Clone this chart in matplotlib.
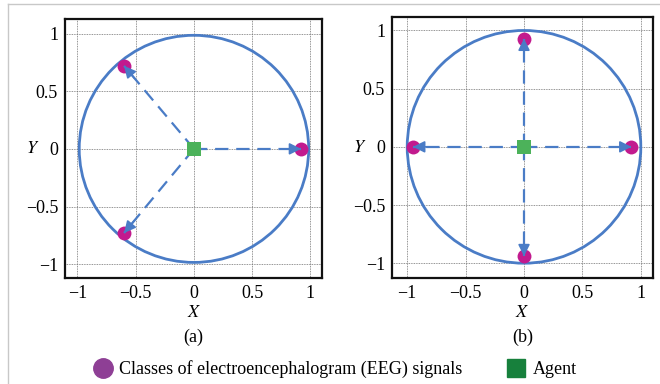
import matplotlib
matplotlib.use("Agg")
import matplotlib.pyplot as plt
from matplotlib.patches import Circle
from matplotlib.lines import Line2D

plt.rcParams['font.family'] = ['Liberation Serif', 'DejaVu Serif']
plt.rcParams['mathtext.fontset'] = 'stix'

# class positions, agent sits at the origin
panel_labels = ['(a)', '(b)']
classes_a_x = [0.92, -0.60, -0.60]
classes_a_y = [0.0, 0.72, -0.73]
classes_b_x = [0.0, -0.95, 0.92, 0.0]
classes_b_y = [0.93, 0.0, 0.0, -0.94]
agent_x = [0.0, 0.0]
agent_y = [0.0, 0.0]
circle_radius = [0.985, 1.0]
ticks = [-1, -0.5, 0, 0.5, 1]
tick_labels = ['\u22121', '\u22120.5', '0', '0.5', '1']
legend_labels = ['Classes of electroencephalogram (EEG) signals', 'Agent']

line_blue = '#4a7cc6'
dot_pink = '#c21a8e'
agent_green = '#4cb25a'

fig = plt.figure(figsize=(6.6, 3.84), dpi=100)
ax_a = fig.add_axes([0.0985, 0.277, 0.390, 0.674])
ax_b = fig.add_axes([0.594, 0.277, 0.3955, 0.680])

panels = [
    (ax_a, classes_a_x, classes_a_y, (-1.107, 1.103), (-1.117, 1.128), -0.125),
    (ax_b, classes_b_x, classes_b_y, (-1.13, 1.105), (-1.124, 1.12), -0.123),
]

for i, (ax, cx, cy, xlim, ylim, ylab_x) in enumerate(panels):
    ax.set_xlim(*xlim)
    ax.set_ylim(*ylim)
    ax.set_xticks(ticks)
    ax.set_xticklabels(tick_labels)
    ax.set_yticks(ticks)
    ax.set_yticklabels(tick_labels)
    ax.tick_params(length=0, labelsize=13, pad=5)
    ax.grid(True, color='#707070', linestyle=(0, (1, 1)), linewidth=0.6)
    for sp in ax.spines.values():
        sp.set_linewidth(1.6)
        sp.set_color('#111111')

    ax.add_patch(Circle((0, 0), circle_radius[i], fill=False,
                        edgecolor=line_blue, linewidth=2.0, zorder=3))

    ax.scatter(cx, cy, s=100, color=dot_pink, zorder=4, linewidths=0)
    ax0, ay0 = agent_x[i], agent_y[i]
    for x, y in zip(cx, cy):
        # dashed shaft, then a solid head on the last bit of it
        ax.plot([ax0, x], [ay0, y], color=line_blue, lw=1.6,
                linestyle=(0, (6, 3.5)), zorder=5)
        ax.annotate('', xy=(x, y), xytext=(ax0 + 0.85 * (x - ax0), ay0 + 0.85 * (y - ay0)),
                    arrowprops=dict(arrowstyle='-|>,head_length=0.7,head_width=0.35',
                                    color=line_blue, lw=1.2,
                                    shrinkA=0, shrinkB=0),
                    zorder=5)
    ax.scatter([ax0], [ay0], s=95, marker='s',
               color=agent_green, zorder=6, linewidths=0)

    ax.set_xlabel('$X$', fontsize=13, labelpad=2)
    ax.set_ylabel('$Y$', fontsize=13, rotation=0, va='center', ha='center')
    ax.yaxis.set_label_coords(ylab_x, 0.5)
    ax.text(0.5, -0.23, panel_labels[i], transform=ax.transAxes,
            ha='center', va='center', fontsize=13)

handles = [
    Line2D([], [], marker='o', linestyle='none', markersize=14,
           markerfacecolor='#8e3f95', markeredgecolor='#8e3f95'),
    Line2D([], [], marker='s', linestyle='none', markersize=13,
           markerfacecolor='#17803c', markeredgecolor='#17803c'),
]
fig.legend(handles, legend_labels, loc='center', bbox_to_anchor=(0.508, 0.038),
           ncol=2, frameon=False, fontsize=13.0, handletextpad=0.4,
           columnspacing=2.5, handlelength=1.0)

# light page frame along the top and left edges
fig.add_artist(Line2D([0.0115, 0.0115], [0.0, 0.99], color='#c8c8c8', lw=1.0))
fig.add_artist(Line2D([0.0115, 1.0], [0.99, 0.99], color='#c8c8c8', lw=1.0))

fig.savefig('out.png', dpi=100)
